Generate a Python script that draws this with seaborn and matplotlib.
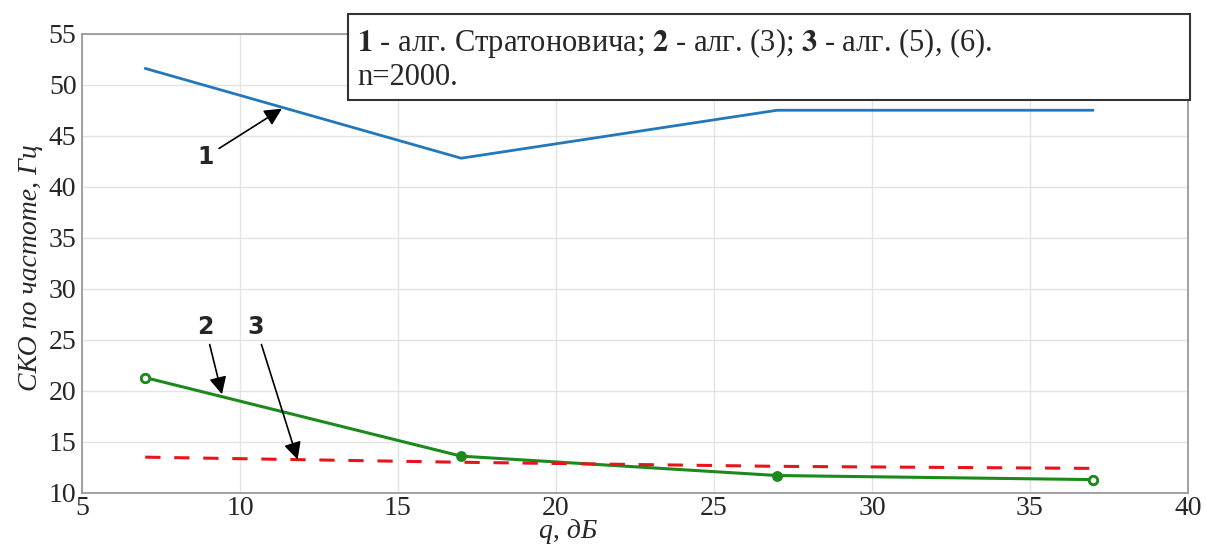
import matplotlib
matplotlib.use('Agg')
import matplotlib.pyplot as plt
from matplotlib.patches import Rectangle
import pandas as pd
import seaborn as sns

# values
q_db = [7, 17, 27, 37]
sko_strat = [51.6, 42.8, 47.5, 47.5]   # 1 - alg. Stratonovich
sko_alg3 = [21.3, 13.6, 11.7, 11.3]    # 2 - alg. (3)
sko_alg56 = [13.5, 13.0, 12.6, 12.4]   # 3 - alg. (5), (6)

x_ticks = [5, 10, 15, 20, 25, 30, 35, 40]
y_ticks = [10, 15, 20, 25, 30, 35, 40, 45, 50, 55]


def main():
    sns.set_style('whitegrid')
    plt.rcParams['font.family'] = ['Liberation Serif', 'DejaVu Serif']
    plt.rcParams['mathtext.fontset'] = 'stix'

    data = pd.DataFrame({'q': q_db, 's1': sko_strat, 's2': sko_alg3, 's3': sko_alg56})

    fig, ax = plt.subplots(figsize=(12.06, 5.44), dpi=100)
    fig.subplots_adjust(left=0.068, right=0.985, top=0.938, bottom=0.094)

    sns.lineplot(data=data, x='q', y='s1', ax=ax, color='#2278b8', linewidth=2)
    sns.lineplot(data=data, x='q', y='s2', ax=ax, color='#1a8a1a', linewidth=2.2,
                 marker='o', markersize=6, markeredgewidth=1.8,
                 markerfacecolor='#1a8a1a', markeredgecolor='#1a8a1a')
    # open circles at the ends of curve 2
    ax.plot([q_db[0], q_db[-1]], [sko_alg3[0], sko_alg3[-1]], 'o', ms=6,
            mfc='white', mec='#1a8a1a', mew=2)
    sns.lineplot(data=data, x='q', y='s3', ax=ax, color='#e8141c', linewidth=2.2,
                 linestyle=(0, (5, 4.5)))

    ax.set_xlim(5, 40)
    ax.set_ylim(10, 55)
    ax.set_xticks(x_ticks)
    ax.set_yticks(y_ticks)
    ax.tick_params(labelsize=20, length=5, direction='in', color='#666666')
    ax.tick_params(axis='x', pad=2)
    ax.tick_params(axis='y', pad=4)
    ax.grid(True, color='#e3e3e3', linewidth=1)
    for s in ax.spines.values():
        s.set_color('#9a9a9a')
        s.set_linewidth(1.3)

    ax.set_xlabel('q, дБ', fontsize=20, style='italic')
    ax.xaxis.set_label_coords(0.44, -0.056)
    ax.set_ylabel('СКО по частоте, Гц', fontsize=20, style='italic')
    ax.yaxis.set_label_coords(-0.035, 0.49)

    # curve labels with arrows
    arr = dict(arrowstyle='-|>', color='black', lw=1.2, mutation_scale=26)
    ax.annotate('1', xy=(11.4, 47.8), xytext=(8.9, 42.9), fontsize=17, fontweight='bold',
                family='DejaVu Sans', ha='center', va='center', arrowprops=arr)
    ax.annotate('2', xy=(9.45, 19.4), xytext=(8.9, 26.3), fontsize=17, fontweight='bold',
                family='DejaVu Sans', ha='center', va='center', arrowprops=arr)
    ax.annotate('3', xy=(11.85, 13.0), xytext=(10.5, 26.3), fontsize=17, fontweight='bold',
                family='DejaVu Sans', ha='center', va='center', arrowprops=arr)

    # legend box, placed in figure pixels like the reference
    fig.patches.append(Rectangle((348 / 1206, 1 - 100 / 544), 842 / 1206, 86 / 544,
                                 transform=fig.transFigure, fc='white', ec='#333333',
                                 lw=1.5, zorder=5))
    fig.text(357 / 1206, 1 - 26 / 544,
             r'$\mathbf{1}$ - алг. Стратоновича; $\mathbf{2}$ - алг. (3); $\mathbf{3}$ - алг. (5), (6).'
             '\nn=2000.',
             fontsize=22, va='top', ha='left', linespacing=1.12, zorder=6)

    fig.savefig('out.png', dpi=100)


if __name__ == '__main__':
    main()
